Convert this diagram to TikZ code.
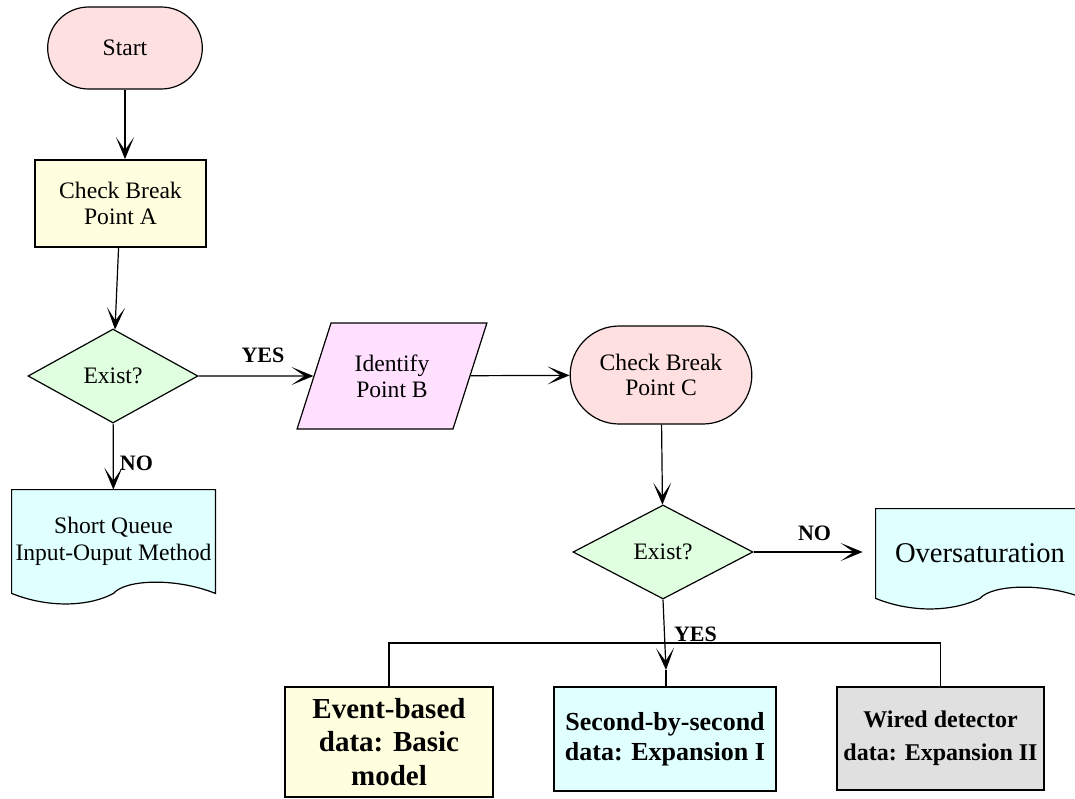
\documentclass[tikz,border=0pt]{standalone}
\usepackage{fontspec}
\setmainfont{Liberation Serif}
\usepackage{tikz}
\usetikzlibrary{calc,shapes.geometric,shapes.misc,arrows.meta,backgrounds}
\definecolor{termfill}{RGB}{255,224,224}
\definecolor{procfill}{RGB}{255,255,224}
\definecolor{decfill}{RGB}{224,255,224}
\definecolor{iofill}{RGB}{255,224,255}
\definecolor{docfill}{RGB}{224,255,255}
\definecolor{grayfill}{RGB}{224,224,224}
\tikzstyle{terminal} = [rounded rectangle, draw=black, line width=0.6pt, fill=termfill, align=center, font=\fontsize{11.8}{12.9}\selectfont]
\tikzstyle{process} = [rectangle, draw=black, line width=0.9pt, fill=procfill, align=center, font=\fontsize{11.8}{12.9}\selectfont]
\tikzstyle{decision} = [diamond, draw=black, line width=0.6pt, fill=decfill, inner sep=0pt, font=\fontsize{11.8}{12.9}\selectfont]
\tikzstyle{io} = [trapezium, trapezium left angle=64, trapezium right angle=116, trapezium stretches=true, inner sep=0pt, draw=black, line width=0.6pt, fill=iofill, align=center, font=\fontsize{11.8}{12.9}\selectfont]
\tikzstyle{document} = [rectangle, inner sep=0pt, align=center, font=\fontsize{11.8}{13.3}\selectfont]
\tikzstyle{result} = [rectangle, draw=black, line width=1.1pt, align=center]
\tikzstyle{arrow} = [line width=0.6pt, ->,>={Stealth[length=11pt,width=9pt,inset=6.5pt]}]
\tikzstyle{link} = [line width=0.6pt]
\tikzstyle{lbl} = [font=\bfseries\fontsize{11}{13}\selectfont, inner sep=1pt]

% document shape: flat top, wavy bottom
\newcommand{\docoutline}[2]{%
  \draw[fill=#2, line width=0.6pt] (#1.north west) -- (#1.south west)
    .. controls ($(#1.south west)+(20pt,-8pt)$) and ($(#1.south west)+(40pt,-6pt)$) .. (#1.south)
    .. controls ($(#1.south)+(6pt,7pt)$) and ($(#1.south east)+(-20pt,8pt)$) .. (#1.south east)
    -- (#1.north east) -- cycle;}

\begin{document}
\begin{tikzpicture}[x=0.5pt,y=-0.5pt]
\useasboundingbox (0,0) rectangle (1075,798);

\node (start) [terminal, minimum width=84pt, minimum height=41pt] at (125,48) {Start};
\node (ptA) [process, minimum width=85.5pt, minimum height=43.5pt] at (120.5,203.5) {Check Break\\Point A};
\node (ex1) [decision, minimum width=85pt, minimum height=47pt] at (113,376) {Exist?};
\node (sq) [document, minimum width=101.5pt, minimum height=51.5pt] at (113.5,541.5) {Short Queue\\Input-Ouput Method};
\node (idB) [io, minimum width=95.5pt, minimum height=53pt] at (392,376) {Identify\\Point B};
\node (ptC) [terminal, minimum width=97.5pt, minimum height=49pt] at (661,375) {Check Break\\Point C};
\node (ex2) [decision, minimum width=90pt, minimum height=47pt] at (663,552) {Exist?};
\node (over) [document, minimum width=104pt, minimum height=44.5pt, font=\fontsize{14.3}{16}\selectfont] at (980,553.5) {Oversaturation};

\node (basic) [result, fill=procfill, minimum width=104pt, minimum height=55pt, font=\bfseries\fontsize{14.5}{16.7}\selectfont] at (389,742) {Event-based\\data: Basic\\model};
\node (exp1) [result, fill=docfill, minimum width=111pt, minimum height=52pt, font=\bfseries\fontsize{13}{15}\selectfont] at (665,739) {Second-by-second\\data: Expansion I};
\node (exp2) [result, fill=grayfill, minimum width=103.5pt, minimum height=51.5pt, font=\bfseries\fontsize{12}{16.5}\selectfont] at (940.5,738.5) {Wired detector\\data: Expansion II};

\begin{scope}[on background layer]
\docoutline{sq}{docfill}
\docoutline{over}{docfill}
\end{scope}

\coordinate (fork) at (666,643);
\coordinate (yestip) at (666,670);

\draw [arrow] (start.south) -- (start.south |- ptA.north);
\draw [arrow] (ptA) -- (ex1);
\draw [arrow] (ex1) -- node[lbl, right=2pt, pos=0.6] {NO} (sq);
\draw [arrow] (ex1) -- node[lbl, above=5.5pt, pos=0.56] {YES} (idB);
\draw [arrow] (idB) -- (ptC);
\draw [arrow] (ptC) -- (ex2);
\draw [arrow, shorten >=6.5pt] (ex2.east) -- node[lbl, above=4.5pt] {NO} (ex2.east -| over.west);
\draw [arrow] (ex2.south) -- node[lbl, right=3.5pt, pos=0.5] {YES} (yestip);
\draw [link] (yestip) -- (yestip |- exp1.north);
\draw [link] (basic.north) |- (fork) -| (exp2.north);

\end{tikzpicture}
\end{document}
